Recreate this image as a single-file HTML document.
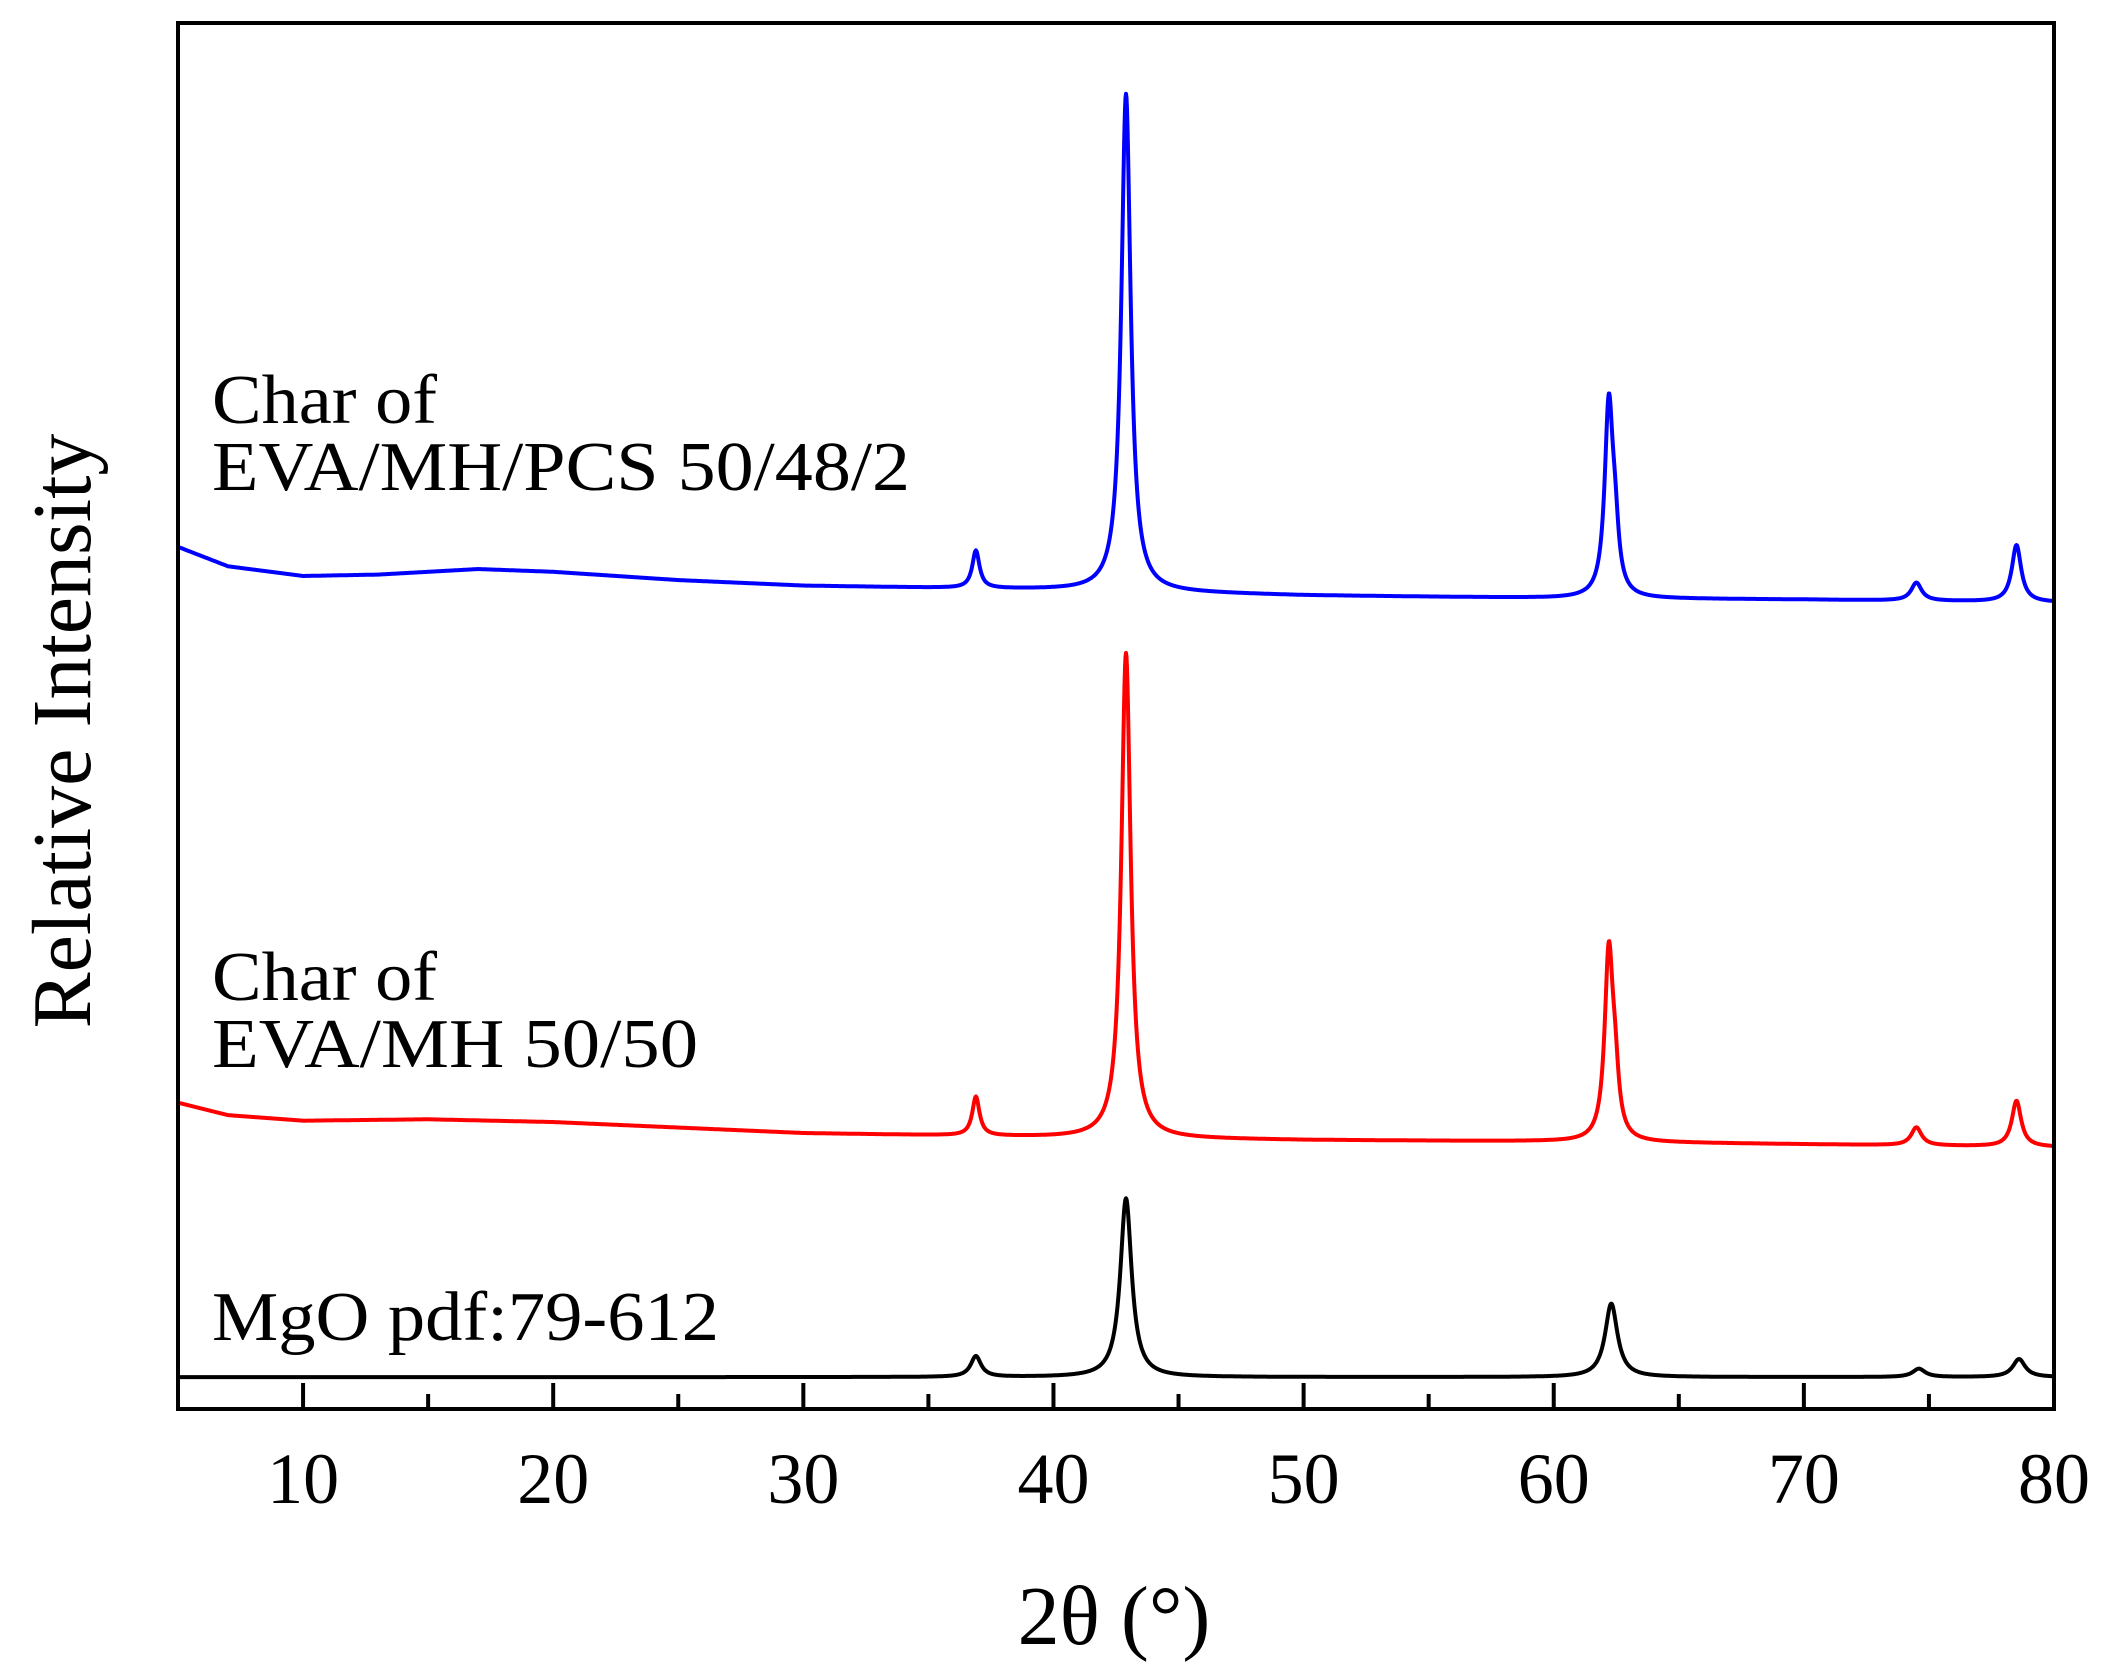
<!DOCTYPE html>
<html><head><meta charset="utf-8"><style>
html,body{margin:0;padding:0;background:#fff;}
svg{display:block;}
text{font-family:"Liberation Serif",serif;fill:#000;}
</style></head><body>
<svg id="chart" width="2104" height="1672" viewBox="0 0 2104 1672" xmlns="http://www.w3.org/2000/svg">
<g id="series"></g>
<rect x="178" y="23" width="1876" height="1386" fill="none" stroke="#000" stroke-width="4"/>
<g id="ticks"></g>
<text x="212" y="423" font-size="70" textLength="225" lengthAdjust="spacingAndGlyphs">Char of</text>
<text x="212" y="490" font-size="70" textLength="698" lengthAdjust="spacingAndGlyphs">EVA/MH/PCS 50/48/2</text>
<text x="212" y="1000" font-size="70" textLength="225" lengthAdjust="spacingAndGlyphs">Char of</text>
<text x="212" y="1067" font-size="70" textLength="486" lengthAdjust="spacingAndGlyphs">EVA/MH 50/50</text>
<text x="212" y="1340" font-size="70" textLength="507" lengthAdjust="spacingAndGlyphs">MgO pdf:79-612</text>
<text x="1114" y="1644" font-size="84" text-anchor="middle">2θ (°)</text>
<text transform="translate(90,731) rotate(-90)" font-size="84" text-anchor="middle">Relative Intensity</text>
</svg>
<script>
const xTicks=[10,20,30,40,50,60,70,80];
const xMinor=[15,25,35,45,55,65,75];
const mgoBaseX=[5,80];
const mgoBaseY=[2.3,2.3];
const mgoPeaks=[[36.9,1.5,0.5],[42.9,12.9,0.55],[62.3,5.3,0.6],[74.6,0.6,0.6],[78.6,1.3,0.6]];
const redBaseX=[5,7,10,15,20,25,30,40,50,60,70,80];
const redBaseY=[22.1,21.2,20.8,20.9,20.7,20.3,19.9,19.6,19.4,19.3,19.1,18.9];
const redPeaks=[[36.9,2.8,0.35],[42.9,35.0,0.45],[62.2,13.3,0.4],[62.45,3.6,0.35],[74.5,1.3,0.5],[78.5,3.3,0.45]];
const blueBaseX=[5,7,10,13,17,20,25,30,40,50,60,70,80];
const blueBaseY=[62.2,60.8,60.1,60.2,60.6,60.4,59.8,59.4,59.1,58.7,58.5,58.4,58.2];
const bluePeaks=[[36.9,2.7,0.35],[42.9,35.9,0.45],[62.2,13.6,0.4],[62.45,3.6,0.35],[74.5,1.3,0.5],[78.5,4.1,0.45]];

const X0=178,X1=2054,Y0=1409,Y1=23;
const xs=v=>X0+(v-5)/(80-5)*(X1-X0);
const ys=v=>Y0-v/100*(Y0-Y1);
function base(bx,by,x){for(let i=0;i<bx.length-1;i++){if(x<=bx[i+1]){const t=(x-bx[i])/(bx[i+1]-bx[i]);return by[i]+t*(by[i+1]-by[i]);}}return by[by.length-1];}
function val(bx,by,pk,x){let v=base(bx,by,x);for(const p of pk){const d=(x-p[0])/(p[2]/2);v+=p[1]/(1+d*d);}return v;}
const ns="http://www.w3.org/2000/svg";
const g=document.getElementById('series');
function draw(bx,by,pk,color,name){let d='';for(let x=5;x<=80.0001;x+=0.02){d+=(d?'L':'M')+xs(x).toFixed(1)+','+ys(val(bx,by,pk,x)).toFixed(1);}
const p=document.createElementNS(ns,'path');p.setAttribute('d',d);p.setAttribute('fill','none');p.setAttribute('stroke',color);p.setAttribute('stroke-width','4');p.setAttribute('stroke-linejoin','round');


g.appendChild(p);}
draw(blueBaseX,blueBaseY,bluePeaks,'#0000ff','series-eva-mh-pcs');
draw(redBaseX,redBaseY,redPeaks,'#ff0000','series-eva-mh');
draw(mgoBaseX,mgoBaseY,mgoPeaks,'#000000','series-mgo');
const tg=document.getElementById('ticks');
function line(x1,y1,x2,y2,name){const l=document.createElementNS(ns,'line');l.setAttribute('x1',x1);l.setAttribute('y1',y1);l.setAttribute('x2',x2);l.setAttribute('y2',y2);l.setAttribute('stroke','#000');l.setAttribute('stroke-width','4');


tg.appendChild(l);}
for(const t of xTicks){line(xs(t),Y0,xs(t),Y0-26,'x-major-tick');
const tx=document.createElementNS(ns,'text');tx.setAttribute('x',xs(t));tx.setAttribute('y',1503);tx.setAttribute('font-size','72');tx.setAttribute('text-anchor','middle');tx.textContent=t;


tg.appendChild(tx);}
for(const t of xMinor){line(xs(t),Y0,xs(t),Y0-15,'x-minor-tick');}
</script>
</body></html>
